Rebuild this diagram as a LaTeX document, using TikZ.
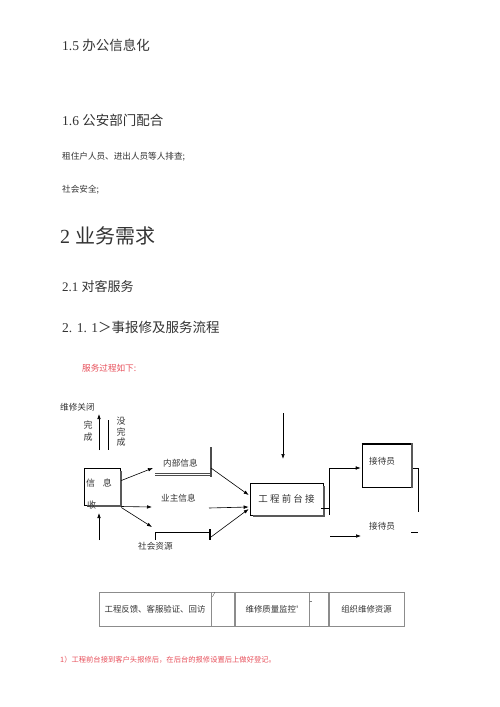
\documentclass[tikz,border=0pt]{standalone}
\usepackage{fontspec}
\setmainfont{Liberation Serif}
\newfontfamily\cjk{Noto Sans CJK SC}
\usetikzlibrary{arrows.meta,positioning}
\definecolor{notered}{HTML}{E8505B}
\definecolor{ink}{HTML}{333333}

\begin{document}
\begin{tikzpicture}[x=1pt,y=-1pt,
    txt/.style={inner sep=0pt,anchor=west,text=ink},
    small/.style={txt,font=\fontsize{8.6}{10}\selectfont\cjk},
    arr/.style={-{Latex[length=5pt,width=3.6pt]},line width=0.6pt},
    ln/.style={line width=0.6pt},
    shade/.style={line width=1.8pt,black!65},
    cell/.style={draw=black!45,line width=0.5pt,minimum height=34pt,inner sep=0pt,
                 text=ink,font=\fontsize{8.4}{10}\selectfont\cjk}]
    \useasboundingbox[fill=white] (0,0) rectangle (500,707);

    % headings and text of the page
    \node[txt,font=\fontsize{13.5}{16}\selectfont] (h15) at (62,45) {1.5 {\cjk 办公信息化}};
    \node[txt,font=\fontsize{13.5}{16}\selectfont] (h16) at (62,120) {1.6 {\cjk 公安部门配合}};
    \node[small] (p1) at (62,157) {租住户人员、进出人员等人排查;};
    \node[small] (p2) at (62,190) {社会安全;};
    \node[txt,font=\fontsize{20}{24}\selectfont] (h2) at (60,236) {2 {\cjk 业务需求}};
    \node[txt,font=\fontsize{13}{16}\selectfont] (h21) at (62,287) {2.1 {\cjk 对客服务}};
    \node[txt,font=\fontsize{13.5}{16}\selectfont] (h211) at (62,327) {2. 1. 1{\cjk ＞事报修及服务流程}};
    \node[small,text=notered] (intro) at (82,368) {服务过程如下:};

    % left part
    \node[small] (close) at (60,407) {维修关闭};
    \node[small,anchor=center,align=center,font=\fontsize{9}{12}\selectfont\cjk] (done) at (88,431) {完\\成};
    \node[small,anchor=center,align=center,font=\fontsize{9}{10.5}\selectfont\cjk] (undone) at (121,432) {没\\完\\成};
    \coordinate (doneS) at (99,450);
    \draw[arr] (doneS) -- (99,414);
    \draw[ln] (108,420) -- (108,450);

    \node[draw,ln,minimum width=36pt,minimum height=37pt,inner sep=0pt] (info) at (102,486.5) {};
    \draw[shade] ([shift={(3,1)}]info.south west) -- ([shift={(1,1)}]info.south east)
        -- ([shift={(1,3)}]info.north east);
    \node[small,font=\fontsize{9}{10}\selectfont\cjk] (infoa) at (86,483) {信\hspace{0.85em}息};
    \node[small,font=\fontsize{9}{10}\selectfont\cjk] (infob) at (87,505) {收};
    \coordinate (infoS) at (99,540);
    \draw[arr] (infoS) -- (99,513);

    % three sources
    \node[small] (inner) at (163,463) {内部信息};
    \draw[black!70,line width=0.7pt,double,double distance=1.3pt] (155,474.5) -- (211,474.5);
    \draw[black!70,line width=1.4pt] (211,447) -- (211,477);
    \node[small] (owner) at (161,498) {业主信息};
    \node[small] (social) at (138,546) {社会资源};
    \draw[ln] (155,540) -- (155,532) -- (210,532);
    \draw[line width=1.3pt] (210,529) -- (210,540);

    \coordinate (innerIn) at (153,468);
    \coordinate (ownerIn) at (152,507);
    \coordinate (socialIn) at (152,527);
    \draw[arr] ([shift={(1,-6)}]info.east) -- (innerIn);
    \draw[arr] ([shift={(1,20)}]info.east) -- (ownerIn);
    \draw[arr] ([shift={(1,21)}]info.east) -- (socialIn);

    % front desk
    \node[draw,ln,minimum width=73pt,minimum height=32pt,inner sep=0pt,text=ink,
          font=\fontsize{9.5}{11}\selectfont\cjk] (desk) at (286.5,499)
          {工\hspace{2.2pt}程\hspace{2.2pt}前\hspace{2.2pt}台\hspace{2.2pt}接};
    \draw[shade] ([shift={(3,1)}]desk.south west) -- ([shift={(1,1)}]desk.south east)
        -- ([shift={(1,3)}]desk.north east);
    \coordinate (innerOut) at (211,468);
    \coordinate (ownerOut) at (209,508);
    \coordinate (socialOut) at (211,537);
    \draw[arr] (innerOut) -- ([shift={(-1,-4)}]desk.west);
    \draw[arr] (ownerOut) -- ([shift={(-1,8)}]desk.west);
    \draw[arr] (socialOut) -- ([shift={(-1,10)}]desk.west);
    \coordinate (topIn) at (283,413);
    \draw[arr] (topIn) -- (283,459);

    % reception
    \node[draw,ln,minimum width=49pt,minimum height=43pt,inner sep=0pt] (recA) at (386.5,465.5) {};
    \draw[shade] ([shift={(1,1)}]recA.south east) -- ([shift={(1,-1)}]recA.north east);
    \draw[line width=1.1pt] (recA.north west) -- (recA.north east);
    \node[small] (recAtxt) at (369,461) {接待员};
    \draw[ln] ([xshift=-2pt]desk.east |- 0,508) -- (329,508);
    \draw[arr] (329,515) -- (329,468) -- ([xshift=-1pt]recA.west |- 0,468);
    \draw[ln] ([shift={(2,2.5)}]recA.east) -- (418,468) -- (418,512);
    \node[small] (recB) at (369,526) {接待员};
    \coordinate (recBIn) at (330,536);
    \draw[arr] (recBIn) -- (361,536);
    \draw[ln] (411,532) -- (418,532);

    % table
    \node[cell,minimum width=112pt] (c1) at (155,609) {工程反馈、客服验证、回访};
    \node[cell,minimum width=23pt,right=0pt of c1] (c2) {};
    \node[cell,minimum width=74pt,right=0pt of c2] (c3) {维修质量监控'};
    \node[cell,minimum width=19pt,right=0pt of c3] (c4) {};
    \node[cell,minimum width=75pt,right=0pt of c4] (c5) {组织维修资源};
    \node[inner sep=0pt,font=\fontsize{7}{8}\selectfont\itshape] (m1) at (213.5,595) {/};
    \draw[black!50,line width=0.4pt] (309,601) -- (312,601);

    % footnote
    \node[small,text=notered,font=\fontsize{7.3}{9}\selectfont\cjk] (note) at (60,660)
        {1）工程前台接到客户头报修后，在后台的报修设置后上做好登记。};
\end{tikzpicture}
\end{document}
